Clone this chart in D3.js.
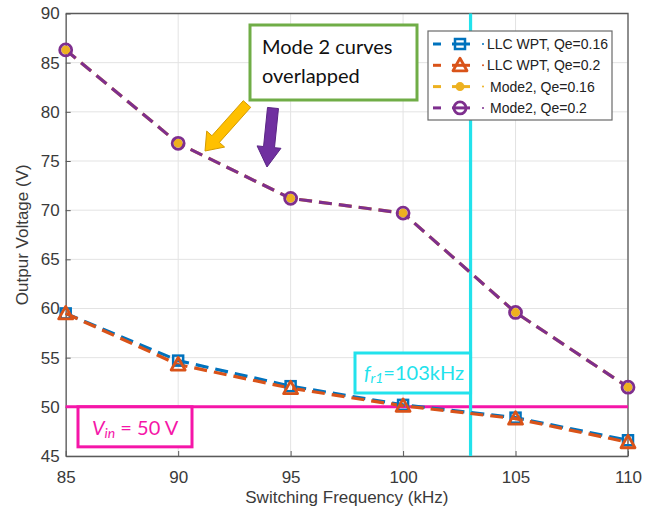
<!DOCTYPE html>
<html>
<head>
<meta charset="utf-8">
<script src="https://cdn.jsdelivr.net/npm/d3@7"></script>
<style>
  html, body { margin: 0; padding: 0; background: #fff; }
  svg { display: block; }
</style>
</head>
<body>
<svg id="chart" width="657" height="514"></svg>
<script>
// Switching frequency (kHz) and output voltage (V) for each configuration
const freqs = [85, 90, 95, 100, 105, 110];
const llcQe016 = [59.5, 54.7, 52.1, 50.2, 48.9, 46.6];
const llcQe02 = [59.5, 54.3, 51.9, 50.1, 48.8, 46.4];
const mode2Qe016 = [86.3, 76.8, 71.2, 69.7, 59.6, 52.0];
const mode2Qe02 = [86.3, 76.8, 71.2, 69.7, 59.6, 52.0];

const seriesNames = ["LLC WPT, Qe=0.16", "LLC WPT, Qe=0.2", "Mode2, Qe=0.16", "Mode2, Qe=0.2"];
const xTicks = [85, 90, 95, 100, 105, 110];
const yTicks = [45, 50, 55, 60, 65, 70, 75, 80, 85, 90];

const vinLevel = 50;      // input voltage reference line (V)
const resonantFreq = 103; // resonant frequency fr1 (kHz)

const svg = d3.select("#chart");
const plotL = 65.7, plotR = 628, plotT = 13.5, plotB = 456;

const x = d3.scaleLinear().domain([85, 110]).range([plotL, plotR]);
const y = d3.scaleLinear().domain([45, 90]).range([plotB, plotT]);

const axisColor = "#5a5a5a";
const textColor = "#3a3a3a";
const font = "'Liberation Sans', Arial, sans-serif";

// Grid
const grid = svg.append("g");
grid.selectAll("line.gx").data(xTicks).join("line").attr("class", "gx")
  .attr("x1", d => x(d)).attr("x2", d => x(d))
  .attr("y1", plotT).attr("y2", plotB)
  .attr("stroke", "#e3e3e3").attr("stroke-width", 1);
grid.selectAll("line.gy").data(yTicks).join("line").attr("class", "gy")
  .attr("x1", plotL).attr("x2", plotR)
  .attr("y1", d => y(d)).attr("y2", d => y(d))
  .attr("stroke", "#e3e3e3").attr("stroke-width", 1);

// Axes
const xAxis = svg.append("g").attr("transform", `translate(0,${plotB})`)
  .call(d3.axisBottom(x).tickValues(xTicks).tickSizeInner(-5).tickSizeOuter(0).tickPadding(15));
const yAxis = svg.append("g").attr("transform", `translate(${plotL},0)`)
  .call(d3.axisLeft(y).tickValues(yTicks).tickSizeInner(-5).tickSizeOuter(0).tickPadding(6));
[xAxis, yAxis].forEach(a => {
  a.select(".domain").attr("stroke", axisColor).attr("stroke-width", 1.3);
  a.selectAll(".tick line").attr("stroke", axisColor);
  a.selectAll("text").attr("font-family", font).attr("font-size", 17).attr("fill", textColor);
});
// Box outline (top and right)
svg.append("path")
  .attr("d", `M${plotL},${plotT}H${plotR}V${plotB}`)
  .attr("fill", "none").attr("stroke", axisColor).attr("stroke-width", 1.3);

// Axis titles
svg.append("text").attr("x", (plotL + plotR) / 2).attr("y", 503)
  .attr("text-anchor", "middle").attr("font-family", font).attr("font-size", 17)
  .attr("fill", textColor).text("Switching Frequency (kHz)");
svg.append("text").attr("transform", `translate(28,${(plotT + plotB) / 2}) rotate(-90)`)
  .attr("text-anchor", "middle").attr("font-family", font).attr("font-size", 17)
  .attr("fill", textColor).text("Outpur Voltage (V)");

// Vin reference line
const magenta = "#f516a8";
svg.append("line").attr("x1", plotL).attr("x2", plotR)
  .attr("y1", y(vinLevel)).attr("y2", y(vinLevel))
  .attr("stroke", magenta).attr("stroke-width", 3);

// Resonant frequency line
const cyan = "#22e2ec";
svg.append("line").attr("x1", x(resonantFreq)).attr("x2", x(resonantFreq))
  .attr("y1", plotT).attr("y2", plotB)
  .attr("stroke", cyan).attr("stroke-width", 3.2);

// Series
const series = [
  { name: seriesNames[0], values: llcQe016, color: "#0072bd", marker: "square" },
  { name: seriesNames[1], values: llcQe02, color: "#d95319", marker: "triangle" },
  { name: seriesNames[2], values: mode2Qe016, color: "#edb120", marker: "dot" },
  { name: seriesNames[3], values: mode2Qe02, color: "#7e2f8e", marker: "circle" }
];

const line = d3.line().x((d, i) => x(freqs[i])).y(d => y(d));

function drawMarker(g, type, color) {
  if (type === "square") {
    g.append("rect").attr("x", -5).attr("y", -5).attr("width", 10).attr("height", 10)
      .attr("fill", "none").attr("stroke", color).attr("stroke-width", 2.5);
  } else if (type === "triangle") {
    g.append("path").attr("d", "M0,-7L7,5.5L-7,5.5Z")
      .attr("fill", "none").attr("stroke", color).attr("stroke-width", 2.8).attr("stroke-linejoin", "round");
  } else if (type === "dot") {
    g.append("circle").attr("r", 4.5).attr("fill", color);
  } else {
    g.append("circle").attr("r", 6).attr("fill", "none").attr("stroke", color).attr("stroke-width", 2.8);
  }
}

series.forEach(s => {
  svg.append("path").datum(s.values).attr("d", line)
    .attr("fill", "none").attr("stroke", s.color).attr("stroke-width", 3.2)
    .attr("stroke-dasharray", "13,7");
});
series.forEach(s => {
  s.values.forEach((v, i) => {
    const g = svg.append("g").attr("transform", `translate(${x(freqs[i])},${y(v)})`);
    drawMarker(g, s.marker, s.color);
  });
});

// Legend
const lg = svg.append("g");
lg.append("rect").attr("x", 428).attr("y", 31).attr("width", 184).attr("height", 89)
  .attr("fill", "#fff").attr("stroke", "#6a6a6a").attr("stroke-width", 1.2);
series.forEach((s, i) => {
  const ry = 44 + i * 21.3;
  lg.append("line").attr("x1", 433).attr("x2", 441).attr("y1", ry).attr("y2", ry)
    .attr("stroke", s.color).attr("stroke-width", 3);
  lg.append("line").attr("x1", 452).attr("x2", 470).attr("y1", ry).attr("y2", ry)
    .attr("stroke", s.color).attr("stroke-width", 3);
  const m = lg.append("g").attr("transform", `translate(460,${ry})`);
  drawMarker(m, s.marker, s.color);
  lg.append("circle").attr("cx", 483).attr("cy", ry).attr("r", 1).attr("fill", s.color);
  lg.append("text").attr("x", i < 2 ? 487 : 490).attr("y", ry + 5).attr("font-family", font)
    .attr("font-size", 14).attr("fill", "#222").text(s.name);
});

// Annotation: overlapped curves callout
const noteFont = "Lato, 'Open Sans', sans-serif";
svg.append("rect").attr("x", 250).attr("y", 25).attr("width", 167).attr("height", 75)
  .attr("fill", "#fff").attr("stroke", "#70ad47").attr("stroke-width", 3);
svg.append("text").attr("x", 262).attr("y", 54).attr("font-family", noteFont)
  .attr("font-size", 20).attr("fill", "#111").text("Mode 2 curves");
svg.append("text").attr("x", 262).attr("y", 83).attr("font-family", noteFont)
  .attr("font-size", 20).attr("fill", "#111").text("overlapped");

// Block arrow shape: tail at (x0,y0), tip at (x1,y1)
function blockArrow(x0, y0, x1, y1, shaft, head, headLen) {
  const dx = x1 - x0, dy = y1 - y0, L = Math.hypot(dx, dy);
  const ux = dx / L, uy = dy / L, nx = -uy, ny = ux;
  const bx = x1 - ux * headLen, by = y1 - uy * headLen;
  const p = [
    [x0 + nx * shaft / 2, y0 + ny * shaft / 2],
    [bx + nx * shaft / 2, by + ny * shaft / 2],
    [bx + nx * head / 2, by + ny * head / 2],
    [x1, y1],
    [bx - nx * head / 2, by - ny * head / 2],
    [bx - nx * shaft / 2, by - ny * shaft / 2],
    [x0 - nx * shaft / 2, y0 - ny * shaft / 2]
  ];
  return "M" + p.map(q => q.join(",")).join("L") + "Z";
}
svg.append("path").attr("d", blockArrow(247, 104, 205, 151, 10, 24, 16))
  .attr("fill", "#ffc000").attr("stroke", "#d49a00").attr("stroke-width", 1);
svg.append("path").attr("d", blockArrow(273, 108, 267, 167, 11, 24, 20))
  .attr("fill", "#7030a0").attr("stroke", "#5a2484").attr("stroke-width", 1);

// Resonant frequency label box
const fr = svg.append("g");
fr.append("rect").attr("x", 355).attr("y", 353).attr("width", x(resonantFreq) - 355).attr("height", 40)
  .attr("fill", "#fff").attr("stroke", cyan).attr("stroke-width", 3);
const frText = fr.append("text").attr("x", 364).attr("y", 380).attr("font-family", noteFont)
  .attr("font-size", 20).attr("fill", cyan);
frText.append("tspan").attr("font-style", "italic").text("f");
frText.append("tspan").attr("font-style", "italic").attr("font-size", 14).attr("dy", 3).text("r1");
frText.append("tspan").attr("dy", -3).text("=103kHz");

// Vin label box
const vb = svg.append("g");
vb.append("rect").attr("x", 78).attr("y", y(vinLevel)).attr("width", 114).attr("height", 40)
  .attr("fill", "#fff").attr("stroke", magenta).attr("stroke-width", 3);
const vText = vb.append("text").attr("x", 92).attr("y", 435).attr("font-family", noteFont)
  .attr("font-size", 20).attr("fill", magenta);
vText.append("tspan").attr("font-style", "italic").text("V");
vText.append("tspan").attr("font-style", "italic").attr("font-size", 14).attr("dy", 3).text("in");
vText.append("tspan").attr("dy", -3).text(" = 50 V");
</script>
</body>
</html>
